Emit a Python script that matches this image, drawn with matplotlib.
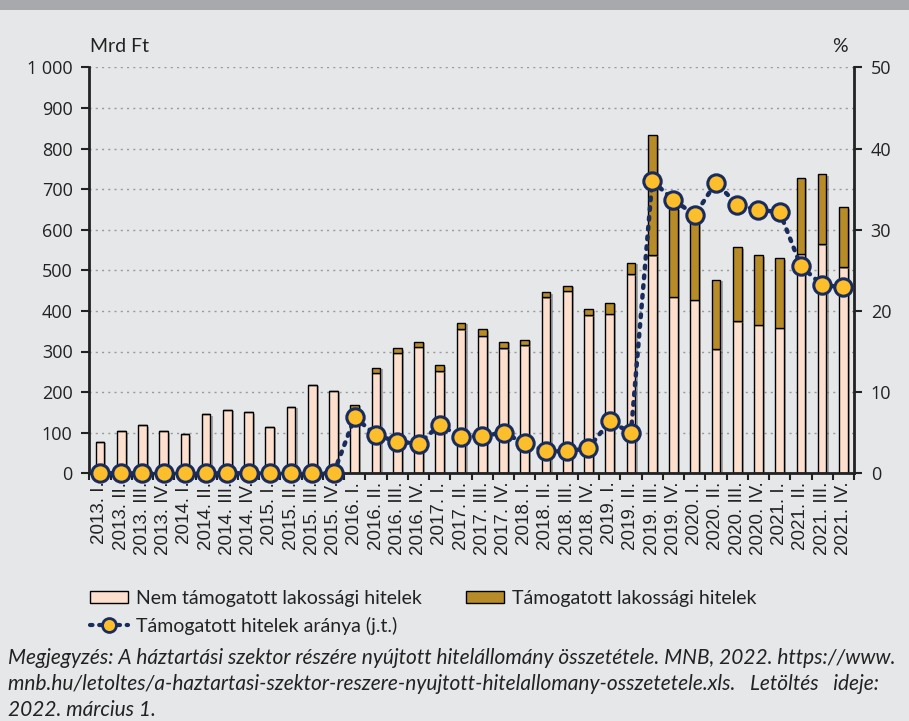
import matplotlib
matplotlib.use("Agg")
import matplotlib.pyplot as plt
import matplotlib.patheffects as pe
from matplotlib.patches import Patch, Rectangle
from matplotlib.lines import Line2D
import numpy as np

years = ["2013", "2014", "2015", "2016", "2017", "2018", "2019", "2020", "2021"]
quarters = ["I.", "II.", "III.", "IV."]
categories = [f"{y}. {q}" for y in years for q in quarters]

nem_tamogatott = [78, 104, 119, 104, 96, 146, 157, 150, 115, 164, 218, 203,
                  159, 248, 297, 312, 252, 355, 339, 308, 316, 434, 450, 389,
                  393, 491, 537, 435, 428, 305, 374, 366, 359, 541, 564, 507]
tamogatott = [0, 0, 0, 0, 0, 0, 0, 0, 0, 0, 0, 0,
              10, 12, 12, 12, 15, 16, 16, 16, 13, 12, 12, 15,
              27, 28, 297, 217, 195, 172, 183, 172, 171, 187, 172, 148]
arany = [0, 0, 0, 0, 0, 0, 0, 0, 0, 0, 0, 0,
         6.9, 4.7, 3.9, 3.65, 5.95, 4.5, 4.6, 5.0, 3.7, 2.75, 2.7, 3.1,
         6.4, 5.0, 36.0, 33.7, 31.8, 35.8, 33.1, 32.4, 32.2, 25.5, 23.2, 22.9]

label_nem = "Nem támogatott lakossági hitelek"
label_tam = "Támogatott lakossági hitelek"
label_arany = "Támogatott hitelek aránya (j.t.)"

BG = "#E6E7E9"
C_NEM = "#FCDFCD"
C_TAM = "#B78B28"
C_MARK = "#FDBE2B"
C_NAVY = "#1A2C5B"

W, H = 909, 721
fig = plt.figure(figsize=(W / 100, H / 100), dpi=100, facecolor=BG)
fig.patches.append(Rectangle((0, 1 - 9.5 / H), 1, 9.5 / H, transform=fig.transFigure,
                             facecolor="#A8A9AD", edgecolor="none"))

ax = fig.add_axes([89.3 / W, 1 - 473.3 / H, (854 - 89.3) / W, (473.3 - 67.3) / H])
ax.set_facecolor(BG)
x = np.arange(len(categories))
shadow = [pe.SimplePatchShadow(offset=(1.6, -1.2), shadow_rgbFace="#6d6d6d", alpha=0.55), pe.Normal()]
b1 = ax.bar(x, nem_tamogatott, width=0.41, color=C_NEM, edgecolor="black", linewidth=1.0, zorder=2)
b2 = ax.bar(x, tamogatott, width=0.41, bottom=nem_tamogatott, color=C_TAM, edgecolor="black",
            linewidth=1.0, zorder=2)
for b in list(b1) + list(b2):
    b.set_path_effects(shadow)

ax.set_xlim(-0.43, 35.49)
ax.set_ylim(0, 1000)
ax.set_yticks(range(0, 1001, 100))
ax.set_yticklabels(["0", "100", "200", "300", "400", "500", "600", "700", "800", "900", "1 000"],
                   fontsize=13, family="Open Sans", color="#222222")
ax.yaxis.grid(True, linestyle=(0, (1.5, 3)), color="#9a9a9a", linewidth=1.0)
ax.set_axisbelow(True)
ax.set_xticks(x)
ax.set_xticklabels(categories, rotation=90, fontsize=13.5, family="Liberation Sans", color="#222222")
ax.set_xticks(np.arange(-0.5, 35.6, 1.0), minor=True)
ax.tick_params(axis="x", which="major", length=0, pad=6)
ax.tick_params(axis="x", which="minor", length=5, width=1.5, direction="out", color="#222222")
ax.tick_params(axis="y", length=6, width=1.5, direction="out", color="#222222", pad=6)
for s in ["top", "right"]:
    ax.spines[s].set_visible(False)
for s in ["left", "bottom"]:
    ax.spines[s].set_linewidth(2.0)
    ax.spines[s].set_color("#222222")

ax2 = ax.twinx()
ax2.set_ylim(0, 50)
ax2.set_yticks(range(0, 51, 10))
ax2.set_yticklabels([str(v) for v in range(0, 51, 10)], fontsize=13, family="Open Sans", color="#222222")
ax2.tick_params(axis="y", length=6, width=1.5, direction="out", color="#222222", pad=6)
for s in ["top", "left", "bottom"]:
    ax2.spines[s].set_visible(False)
ax2.spines["right"].set_linewidth(2.0)
ax2.spines["right"].set_color("#222222")
ax2.plot(x, arany, linestyle=(0, (0.6, 1.6)), dash_capstyle="round", color=C_NAVY, linewidth=3.2,
         marker="o", markersize=12.5, markerfacecolor=C_MARK, markeredgecolor=C_NAVY,
         markeredgewidth=2.2, clip_on=False, zorder=5)

fig.text(90 / W, 1 - 47 / H, "Mrd Ft", fontsize=14, family="Lato", color="#222222", va="center")
fig.text(840 / W, 1 - 47 / H, "%", fontsize=14, family="Lato", color="#222222", va="center", ha="center")

handles = [Patch(facecolor=C_NEM, edgecolor="black", linewidth=1.0),
           Line2D([0], [0], linestyle=(0, (0.6, 1.6)), dash_capstyle="round", color=C_NAVY,
                  linewidth=3, marker="o", markersize=10, markerfacecolor=C_MARK,
                  markeredgecolor=C_NAVY, markeredgewidth=2),
           Patch(facecolor=C_TAM, edgecolor="black", linewidth=1.0)]
labels = [label_nem, label_arany, label_tam]
fig.legend(handles, labels, loc="upper left", bbox_to_anchor=(90 / W, 1 - 590 / H), ncol=2,
           frameon=False, prop={"family": "Lato", "size": 14}, handlelength=1.95, handleheight=0.6,
           handletextpad=0.4, columnspacing=2.3, labelspacing=0.5, borderpad=0.0,
           borderaxespad=0.0, labelcolor="#222222")

foot = ["Megjegyzés: A háztartási szektor részére nyújtott hitelállomány összetétele. MNB, 2022. https://www.",
        "mnb.hu/letoltes/a-haztartasi-szektor-reszere-nyujtott-hitelallomany-osszetetele.xls.   Letöltés   ideje:",
        "2022. március 1."]
for i, t in enumerate(foot):
    fig.text(8 / W, 1 - (658 + 26 * i) / H, t, fontsize=15.0, family="Lato", style="italic",
             color="#222222", va="center", ha="left")

fig.savefig("out.png", dpi=100, facecolor=BG)
